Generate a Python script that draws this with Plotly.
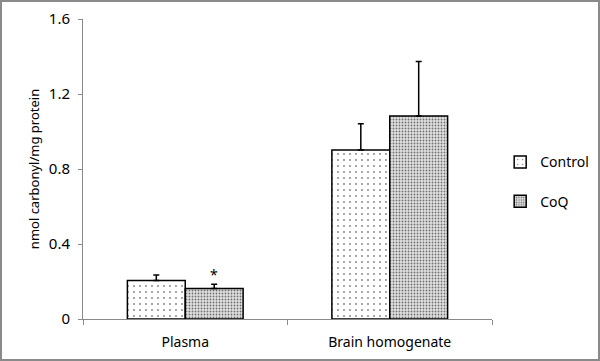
import plotly.graph_objects as go

categories = ["Plasma", "Brain homogenate"]
control_vals = [0.205, 0.902]
control_err = [0.030, 0.140]
coq_vals = [0.163, 1.083]
coq_err = [0.022, 0.290]
y_ticks = [0, 0.4, 0.8, 1.2, 1.6]
y_ticklabels = ["0", "0.4", "0.8", "1.2", "1.6"]

W, H = 600, 361
ml, mr, mt, mb = 83, 108, 19, 42
FONT = "Noto Sans"

fig = go.Figure()
fig.add_trace(go.Bar(
    x=categories, y=control_vals, name="Control", legendgroup="a",
    marker=dict(color="white", line=dict(color="black", width=1.5),
                pattern=dict(shape=".", size=6, solidity=0.07, fgcolor="black", bgcolor="white")),
    error_y=dict(type="data", symmetric=False, array=control_err, arrayminus=[0, 0],
                 color="black", thickness=1.5, width=3),
))
fig.add_trace(go.Bar(
    x=categories, y=coq_vals, name="CoQ", legendgroup="b",
    marker=dict(color="white", line=dict(color="black", width=1.5),
                pattern=dict(shape=".", size=3, solidity=0.3, fgcolor="black", bgcolor="#e2e2e2")),
    error_y=dict(type="data", symmetric=False, array=coq_err, arrayminus=[0, 0],
                 color="black", thickness=1.5, width=3),
))

fig.add_annotation(x=categories[0], y=coq_vals[0] + coq_err[0], xref="x", yref="y",
                   text="*", showarrow=False, xshift=29, yshift=10,
                   font=dict(family=FONT, size=14, color="black"))

pw = W - ml - mr
ph = H - mt - mb
fig.add_shape(type="rect", xref="paper", yref="paper",
              x0=-(ml - 1) / pw, x1=1 + (mr - 1) / pw,
              y0=-(mb - 1) / ph, y1=1 + (mt - 1) / ph,
              line=dict(color="#8a8a8a", width=2), fillcolor="rgba(0,0,0,0)", layer="below")

fig.update_layout(
    width=W, height=H,
    margin=dict(l=ml, r=mr, t=mt, b=mb, pad=0, autoexpand=False),
    paper_bgcolor="white", plot_bgcolor="white",
    barmode="group", bargap=0.434, bargroupgap=0,
    font=dict(family=FONT, size=13, color="black"),
    showlegend=True,
    legend=dict(x=1.02, y=0.457, xanchor="left", yanchor="middle",
                tracegroupgap=18, traceorder="grouped",
                font=dict(family=FONT, size=14, color="black"), bgcolor="rgba(0,0,0,0)"),
    xaxis=dict(showline=True, linecolor="#8a8a8a", linewidth=1, ticks="outside",
               tickson="boundaries", ticklen=5, tickcolor="#8a8a8a",
               ticklabelstandoff=10, automargin=False,
               showgrid=False, tickfont=dict(size=14)),
    yaxis=dict(range=[0, 1.6], tickvals=y_ticks, ticktext=y_ticklabels,
               showline=True, linecolor="#8a8a8a", linewidth=1, ticks="outside",
               ticklen=4, tickcolor="#8a8a8a", showgrid=False, zeroline=False,
               ticklabelstandoff=5, automargin=False,
               title=dict(text="nmol carbonyl/mg protein", font=dict(size=13), standoff=6),
               tickfont=dict(size=15)),
)

fig.write_html("out.html", config={"displayModeBar": False},
               post_script="document.body.style.margin='0';document.body.style.overflow='hidden';")
